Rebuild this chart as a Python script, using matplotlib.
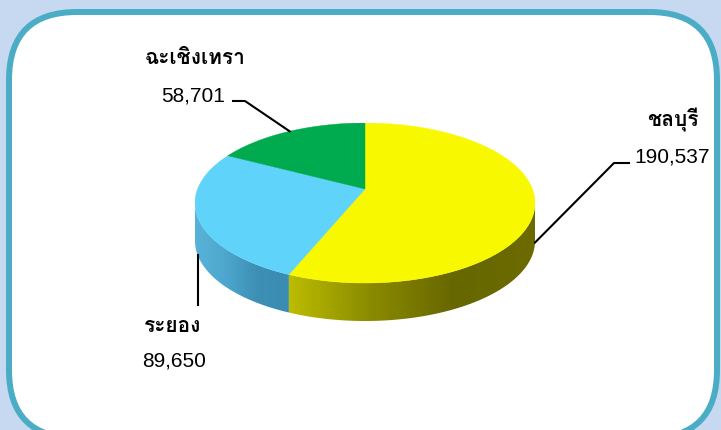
import numpy as np
import matplotlib
matplotlib.use("Agg")
import matplotlib.pyplot as plt
from matplotlib import font_manager
from matplotlib.ft2font import FT2Font
from matplotlib.patches import FancyBboxPatch, Polygon
from matplotlib.colors import LinearSegmentedColormap

# data
provinces = ['ชลบุรี', 'ระยอง', 'ฉะเชิงเทรา']
values = [190537, 89650, 58701]
top_colors = ['#f8f800', '#5fd3fa', '#00aa4f']
side_colors = [['#bcbc00', '#8a8a00', '#676700', '#6b6b00'],
               ['#58b3d9', '#4ca6cd', '#3d8fb5', '#3b8cb2'],
               ['#008a40', '#008a40', '#008a40', '#008a40']]

# find a font that has thai glyphs
thai_fonts = []
for f in font_manager.fontManager.ttflist:
    try:
        if 0x0E0A in FT2Font(f.fname).get_charmap():
            thai_fonts.append(f.name)
    except Exception:
        pass
fam = []
for n in thai_fonts:
    if n not in fam:
        fam.append(n)
fam = fam + ['Liberation Sans', 'DejaVu Sans']

W, H = 721, 430
fig = plt.figure(figsize=(W / 100, H / 100), dpi=100)
fig.patch.set_facecolor('#c6d9f0')

# background frame
bg = fig.add_axes([0, 0, 1, 1])
bg.set_xlim(0, W)
bg.set_ylim(H, 0)
bg.axis('off')
R = 68
frame = FancyBboxPatch((9 + R, 12 + R), 708 - 2 * R, 426 - 2 * R,
                       boxstyle='round,pad=%d' % R, facecolor='white',
                       edgecolor='#4bacc6', linewidth=4.3)
bg.add_patch(frame)

# pie geometry in pixels
cx, cy, rx, ry = 365, 203, 170, 80
depth = 0.475
k = 0.175   # perspective: where the pie centre lands on the top face

pie_ax = fig.add_axes([(cx - rx) / W, (H - (cy + ry * (1 + depth))) / H,
                       2 * rx / W, ry * (2 + depth) / H])
pie_ax.patch.set_alpha(0)


def warp(deg):
    # map a point of the flat circle to the tilted view (circle stays a circle)
    t = np.radians(deg)
    u, v = np.cos(t), np.sin(t)
    d = 1 + k * v
    return u * np.sqrt(1 - k * k) / d, (v + k) / d


def warp_angle(deg):
    x, y = warp(deg)
    return np.degrees(np.arctan2(y, x))


total = sum(values)
angles = [360 * v / total for v in values]
starts = 90 - np.concatenate([[0], np.cumsum(angles)[:-1]])
ends = starts - np.array(angles)


def unwrap(a0, a1):
    b0, b1 = warp_angle(a0), warp_angle(a1)
    while b1 <= b0:
        b1 += 360
    return b0, b1


# side walls (front half only)
for i in range(len(values)):
    a0, a1 = unwrap(ends[i], starts[i])
    for off in (-360, 0, 360):
        lo = max(a0, -180 + off)
        hi = min(a1, 0 + off)
        if hi <= lo:
            continue
        t = np.radians(np.linspace(lo, hi, 200))
        xs = np.cos(t)
        ys = np.sin(t)
        pts = np.concatenate([np.column_stack([xs, ys]),
                              np.column_stack([xs[::-1], ys[::-1] - depth])])
        poly = Polygon(pts, closed=True, facecolor='none', edgecolor='none')
        pie_ax.add_patch(poly)
        cmap = LinearSegmentedColormap.from_list('s%d' % i, side_colors[i])
        gx = np.linspace(0, 1, 256).reshape(1, -1)
        im = pie_ax.imshow(gx, cmap=cmap,
                           extent=[xs.min(), xs.max(), -1 - depth, 0],
                           aspect='auto', interpolation='bilinear', zorder=1)
        im.set_clip_path(poly)

# top face
for i in range(len(values)):
    a0, a1 = unwrap(ends[i], starts[i])
    t = np.radians(np.linspace(a0, a1, 300))
    pts = np.vstack([[0, k], np.column_stack([np.cos(t), np.sin(t)])])
    pie_ax.add_patch(Polygon(pts, closed=True, facecolor=top_colors[i],
                             edgecolor=top_colors[i], linewidth=0.3, zorder=2))

pie_ax.set_xlim(-1, 1)
pie_ax.set_ylim(-1 - depth, 1)
pie_ax.axis('off')

# labels and leader lines in pixel coords
tx = fig.add_axes([0, 0, 1, 1])
tx.set_xlim(0, W)
tx.set_ylim(H, 0)
tx.axis('off')
tx.patch.set_alpha(0)


def anchor(i):
    x, y = warp((starts[i] + ends[i]) / 2)
    if y < 0:
        y = y - depth
    return cx + rx * x, cy - ry * y


label_pos = [(673, 120, 672, 157), (173, 327, 174, 361), (195, 59, 193, 96)]
# None -> drop straight down from the anchor
elbows = [[(629, 163), (614, 163)], [(None, 305)], [(233, 101), (245, 101)]]

for i in range(len(values)):
    lx, ly, nx, ny = label_pos[i]
    tx.text(lx, ly, provinces[i], family=fam, fontsize=15, fontweight='bold',
            ha='center', va='center', color='black')
    tx.text(nx, ny, '{:,}'.format(values[i]), family=['Liberation Sans'],
            fontsize=15, ha='center', va='center', color='black')
    ax_, ay_ = anchor(i)
    pts = [(ax_ if px is None else px, py) for px, py in elbows[i]] + [(ax_, ay_)]
    tx.plot([p[0] for p in pts], [p[1] for p in pts], color='black', lw=1.5)

fig.savefig('out.png', dpi=100)
